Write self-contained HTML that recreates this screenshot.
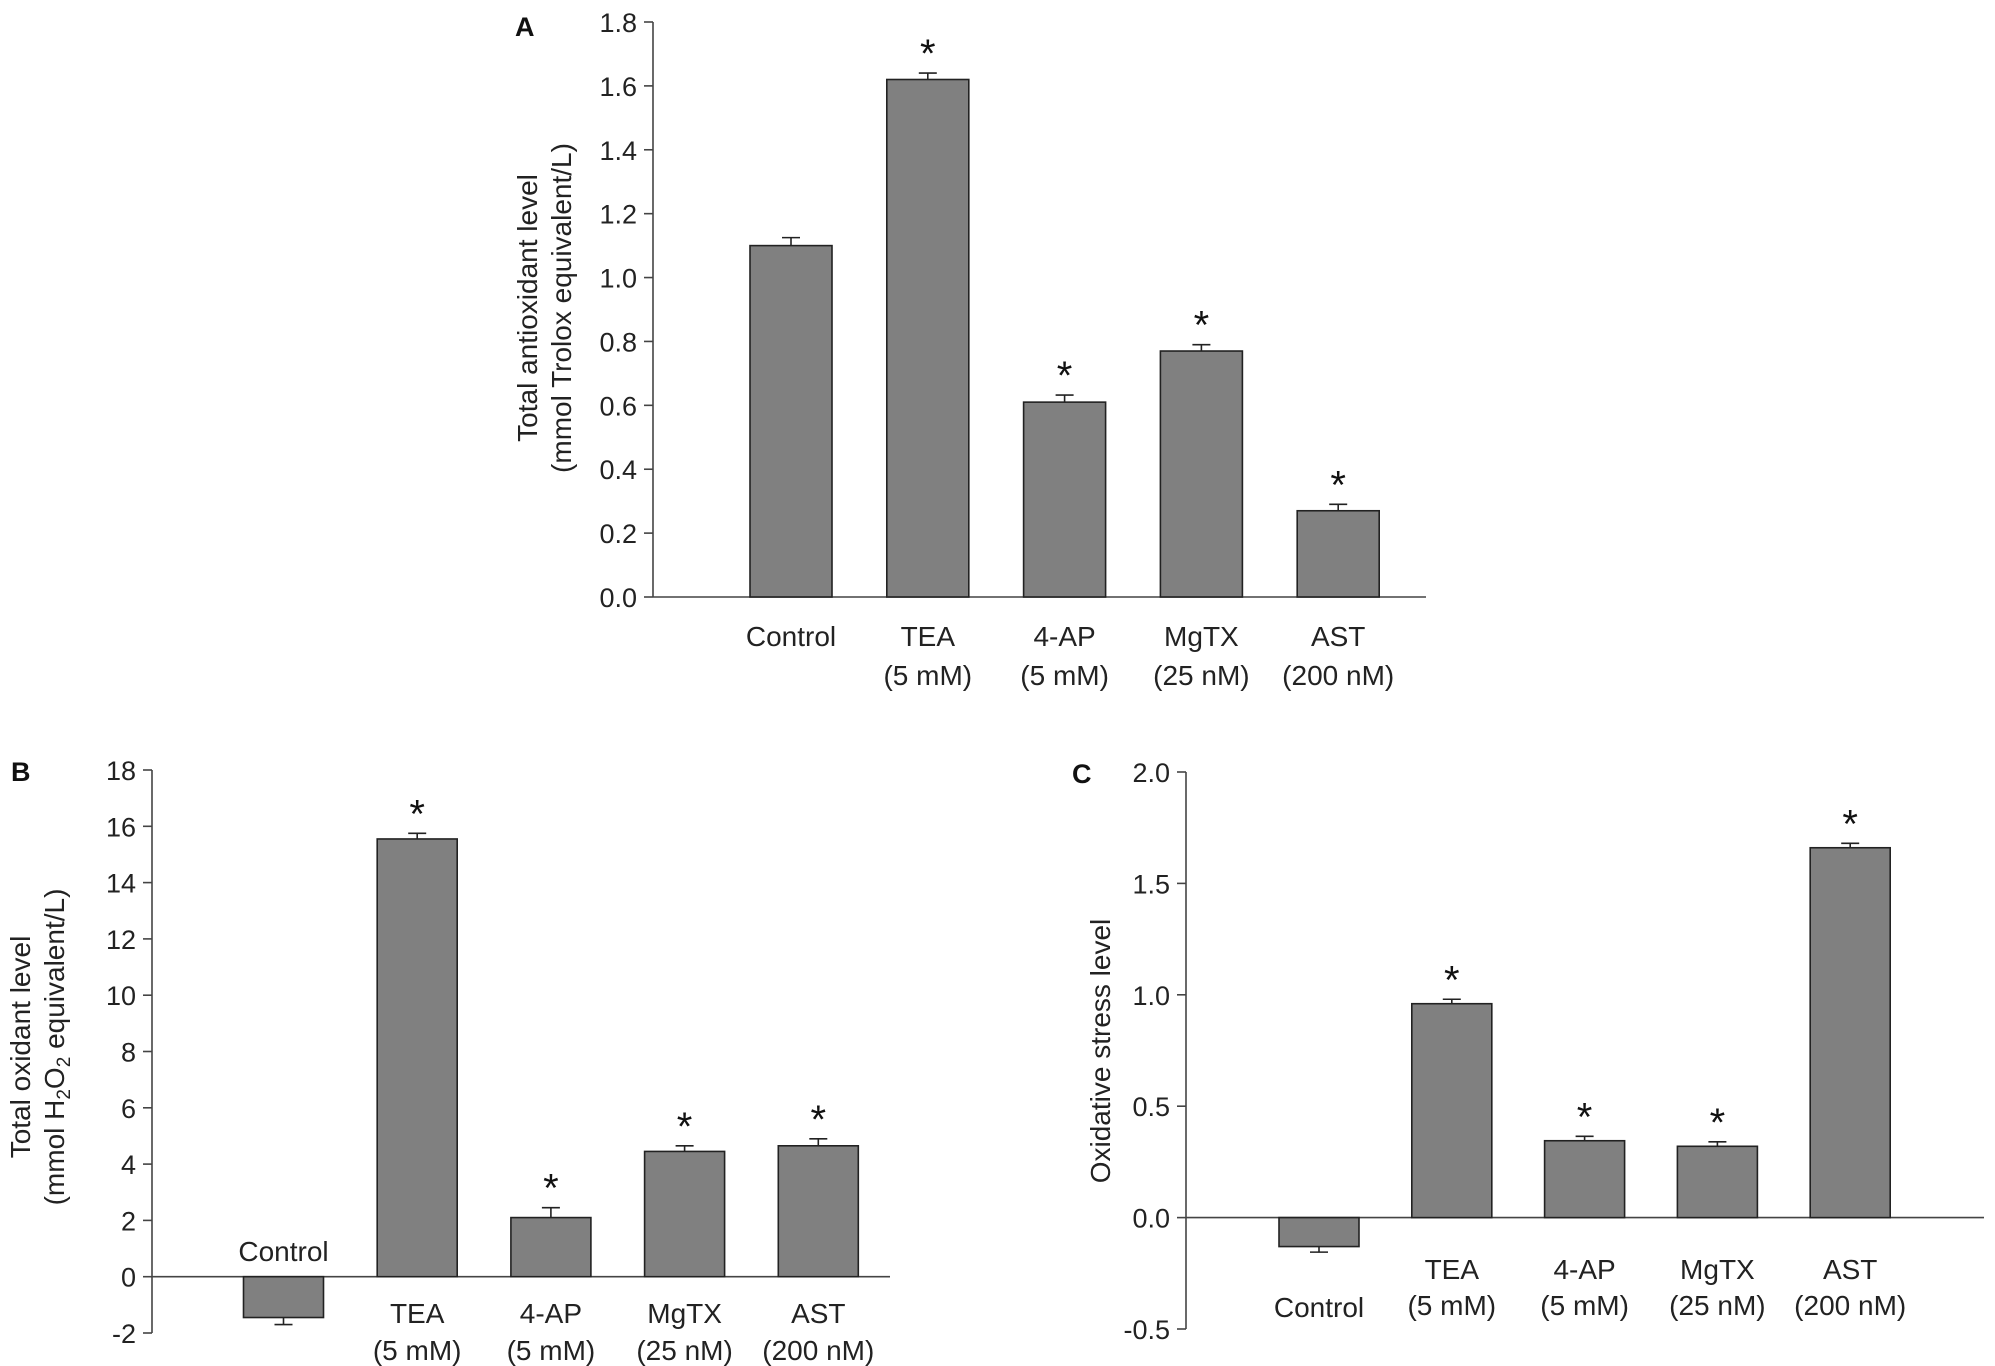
<!DOCTYPE html>
<html><head><meta charset="utf-8">
<style>
html,body{margin:0;padding:0;background:#fff;}
svg{display:block;font-family:"Liberation Sans",Arial,sans-serif;}
</style></head>
<body>
<svg id="fig" width="1995" height="1366" viewBox="0 0 1995 1366" xmlns="http://www.w3.org/2000/svg"></svg>
<script>
// ---- data ----
const categories = ["Control","TEA","4-AP","MgTX","AST"];
const doses = ["","(5 mM)","(5 mM)","(25 nM)","(200 nM)"];
const valuesA = [1.10, 1.62, 0.61, 0.77, 0.27];
const errorsA = [0.025, 0.02, 0.022, 0.02, 0.02];
const sigA = [false, true, true, true, true];
const ticksA = [0.0,0.2,0.4,0.6,0.8,1.0,1.2,1.4,1.6,1.8];
const tickLabelsA = ["0.0","0.2","0.4","0.6","0.8","1.0","1.2","1.4","1.6","1.8"];
const valuesB = [-1.45, 15.55, 2.1, 4.45, 4.65];
const errorsB = [0.25, 0.2, 0.35, 0.2, 0.25];
const sigB = [false, true, true, true, true];
const ticksB = [-2,0,2,4,6,8,10,12,14,16,18];
const tickLabelsB = ["-2","0","2","4","6","8","10","12","14","16","18"];
const valuesC = [-0.13, 0.96, 0.345, 0.32, 1.66];
const errorsC = [0.025, 0.02, 0.02, 0.02, 0.02];
const sigC = [false, true, true, true, true];
const ticksC = [-0.5,0.0,0.5,1.0,1.5,2.0];
const tickLabelsC = ["-0.5","0.0","0.5","1.0","1.5","2.0"];

const NS = "http://www.w3.org/2000/svg";
const svg = document.getElementById("fig");
function mk(tag, attrs, parent, text){
  const e = document.createElementNS(NS, tag);
  for (const k in attrs) e.setAttribute(k, attrs[k]);
  if (text !== undefined) e.textContent = text;
  (parent||svg).appendChild(e);
  return e;
}

function panel(cfg){
  const g = mk("g", {});
  
  
  const y = v => cfg.y0 + (v - cfg.vmin) / (cfg.vmax - cfg.vmin) * (cfg.y1 - cfg.y0);
  const x = i => cfg.xFirst + i * cfg.step;
  const ax = mk("line", {x1:cfg.axisX, y1:y(cfg.vmax), x2:cfg.axisX, y2:y(cfg.vmin), stroke:"#444", "stroke-width":1.6}, g);
  
  
  cfg.ticks.forEach((t, k) => {
    const tk = mk("line", {x1:cfg.axisX-9, y1:y(t), x2:cfg.axisX, y2:y(t), stroke:"#444", "stroke-width":1.6}, g);
    
    
    const tl = mk("text", {x:cfg.axisX-16, y:y(t)+10, "text-anchor":"end", "font-size":27, fill:"#222"}, g, cfg.tickLabels[k]);
    
    
  });
  const bl = mk("line", {x1:cfg.axisX, y1:y(0), x2:cfg.axisRight, y2:y(0), stroke:"#444", "stroke-width":1.6}, g);
  
  
  cfg.values.forEach((v, i) => {
    const cx = x(i), w = cfg.barW;
    const top = Math.min(y(v), y(0)), h = Math.abs(y(v) - y(0));
    const r = mk("rect", {x:cx-w/2, y:top, width:w, height:h, fill:"#808080", stroke:"#222", "stroke-width":1.6}, g);
    
    
    const e = v >= 0 ? v + cfg.errors[i] : v - cfg.errors[i];
    const eb = mk("path", {d:`M${cx},${y(v)} L${cx},${y(e)} M${cx-9},${y(e)} L${cx+9},${y(e)}`, stroke:"#222", "stroke-width":1.6, fill:"none"}, g);
    
    
    if (cfg.sig[i]) {
      const s = mk("text", {x:cx, y:y(e)-6, "text-anchor":"middle", "font-size":40, fill:"#111"}, g, "*");
      
      
    }
    const ly = (i === 0 && cfg.controlY) ? cfg.controlY : cfg.labelY;
    const l1 = mk("text", {x:cx, y:ly, "text-anchor":"middle", "font-size":28, fill:"#222"}, g, categories[i]);
    
    
    if (doses[i]) {
      const l2 = mk("text", {x:cx, y:ly+cfg.lineGap, "text-anchor":"middle", "font-size":28, fill:"#222"}, g, doses[i]);
      
      
    }
  });
  const tt = mk("text", {transform:`translate(${cfg.titleX},${cfg.titleY}) rotate(-90)`, "text-anchor":"middle", "font-size":28, fill:"#222"}, g);
  
  
  cfg.title(tt);
  const pl = mk("text", {x:cfg.letterX, y:cfg.letterY, "font-size":27, "font-weight":"bold", fill:"#111"}, g, cfg.id);
  
  
}

panel({id:"A", values:valuesA, errors:errorsA, sig:sigA, ticks:ticksA, tickLabels:tickLabelsA,
  vmin:0, vmax:1.8, y0:597, y1:22, axisX:653, axisRight:1426, xFirst:791, step:136.8, barW:82,
  labelY:646, lineGap:39, titleX:537, titleY:308, letterX:515, letterY:36,
  title:t=>{ mk("tspan",{x:0,dy:0},t,"Total antioxidant level"); mk("tspan",{x:0,dy:34},t,"(mmol Trolox equivalent/L)"); }});

panel({id:"B", values:valuesB, errors:errorsB, sig:sigB, ticks:ticksB, tickLabels:tickLabelsB,
  vmin:-2, vmax:18, y0:1333, y1:770, axisX:152, axisRight:890, xFirst:283.5, step:133.7, barW:80,
  labelY:1323, lineGap:37, controlY:1261, titleX:30, titleY:1047, letterX:11, letterY:781,
  title:t=>{ mk("tspan",{x:0,dy:0},t,"Total oxidant level");
    mk("tspan",{x:0,dy:34},t,"(mmol H");
    mk("tspan",{dy:6,"font-size":19},t,"2"); mk("tspan",{dy:-6},t,"O");
    mk("tspan",{dy:6,"font-size":19},t,"2"); mk("tspan",{dy:-6},t," equivalent/L)"); }});

panel({id:"C", values:valuesC, errors:errorsC, sig:sigC, ticks:ticksC, tickLabels:tickLabelsC,
  vmin:-0.5, vmax:2.0, y0:1329, y1:772, axisX:1186, axisRight:1984, xFirst:1319, step:132.8, barW:80,
  labelY:1279, lineGap:36, controlY:1317, titleX:1110, titleY:1051, letterX:1072, letterY:783,
  title:t=>{ mk("tspan",{x:0,dy:0},t,"Oxidative stress level"); }});
</script>
</body></html>
